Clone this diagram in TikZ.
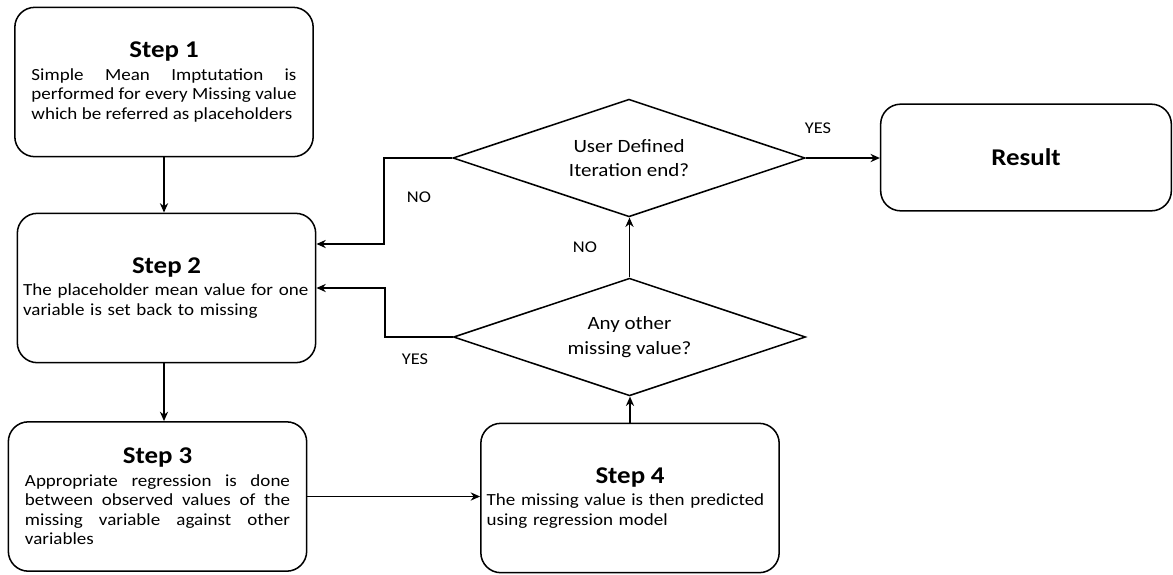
\documentclass[tikz,border=0pt]{standalone}
\usepackage{fontspec}
\setmainfont{Carlito}[FakeStretch=1.12]
\usetikzlibrary{shapes.geometric,calc,arrows.meta}
\tikzset{>={Stealth[length=8pt,width=7pt]}}
\tikzset{
  stepbox/.style={draw,line width=1.3pt,rounded corners=0.6cm,minimum width=8.95cm,
    minimum height=4.48cm,text width=7.95cm,inner sep=0pt,font=\fontsize{14.5}{16.6}\selectfont},
  decision/.style={draw,diamond,aspect=3,line width=1.3pt,minimum width=10.56cm,minimum height=3.53cm,
    inner sep=0pt,align=center,font=\fontsize{16}{21}\selectfont},
  lbl/.style={font=\fontsize{14}{16}\selectfont},
  flow/.style={->,line width=1.3pt},
}
\newcommand{\steptitle}[1]{{\centering\fontsize{20.5}{24}\selectfont\bfseries #1\par}\vspace{2.5pt}}

\begin{document}
\begin{tikzpicture}[x=0.03cm,y=-0.03cm]
  \useasboundingbox (0,0) rectangle (1173,574);
  % boxes
  \node[stepbox,align=justify] (s1) at (164,82) {\steptitle{Step 1}Simple Mean Imptutation is\linebreak
    performed for every Missing value\linebreak which be referred as placeholders};
  \node[stepbox,align=left,text width=8.6cm] (s2) at (166.5,288) {\steptitle{Step 2}The placeholder mean value for one\\
    variable is set back to missing};
  \node[stepbox,align=justify] (s3) at (157.5,496.5) {\steptitle{Step 3}Appropriate regression is done\linebreak
    between observed values of the\linebreak missing variable against other\linebreak variables};
  \node[stepbox,align=left,text width=8.6cm] (s4) at (630,498) {\steptitle{Step 4}The missing value is then predicted\\
    using regression model};
  \node[draw,line width=1.3pt,rounded corners=0.6cm,minimum width=8.72cm,minimum height=3.2cm,
    font=\fontsize{20.5}{24}\selectfont\bfseries] (res) at (1026,157.5) {Result};
  % decisions
  \node[decision] (d1) at (629,158) {User Defined\\Iteration end?};
  \node[decision] (d2) at (629.5,337) {Any other\\missing value?};
  \coordinate (no1) at (384,244);
  \coordinate (yes1) at (385,288);
  % connectors
  \draw[flow] (s1.south) -- (s1.south |- s2.north);
  \draw[flow] (s1.south |- s2.south) -- (s1.south |- s3.north);
  \draw[flow] (s3.east) -- (s3.east -| s4.west);
  \draw[flow] (s4.north) -- (s4.north |- d2.south);
  \draw[flow] (d2.north) -- (d2.north |- d1.south);
  \draw[flow] (d1.east) -- (d1.east -| res.west);
  \draw[flow] (d1.west) -| (no1) -- (no1 -| s2.east);
  \draw[flow] (d2.west) -| (yes1) -- (yes1 -| s2.east);
  % labels
  \node[lbl] (yesres) at (818,128) {YES};
  \node[lbl] (noback) at (419,197) {NO};
  \node[lbl] (noup) at (585,247) {NO};
  \node[lbl] (yesback) at (415,359) {YES};
\end{tikzpicture}
\end{document}
